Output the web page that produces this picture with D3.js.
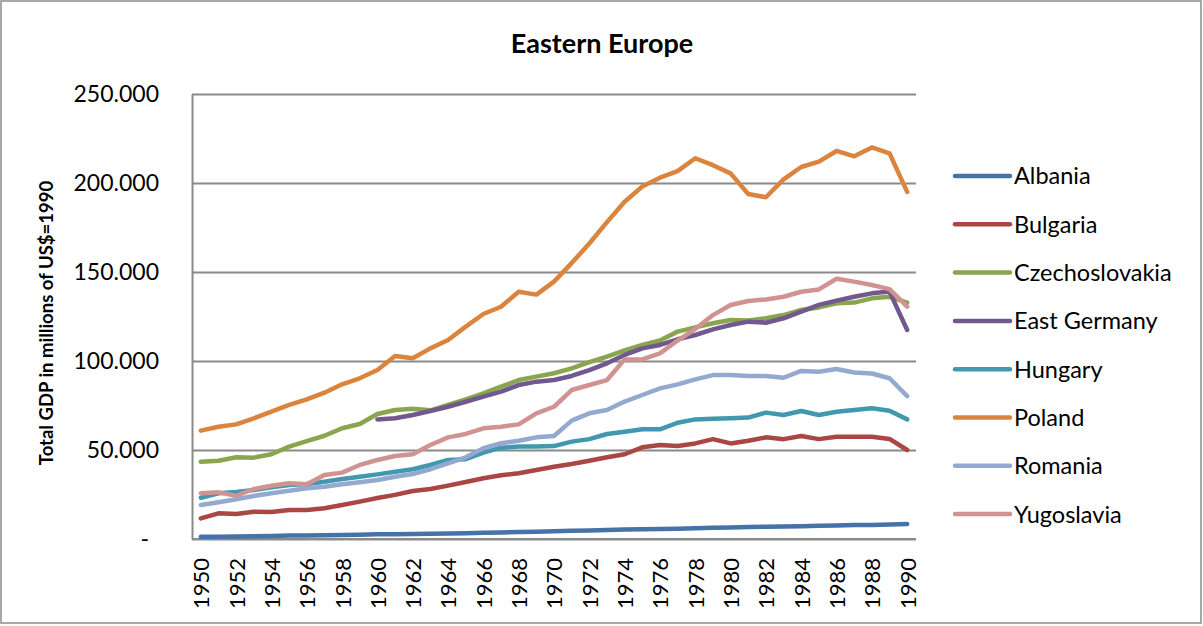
<!DOCTYPE html>
<html>
<head>
<meta charset="utf-8">
<script src="https://cdn.jsdelivr.net/npm/d3@7"></script>
<style>
  body { margin: 0; background: #fff; }
  svg text { font-family: Lato, "Open Sans", sans-serif; fill: #000; }
</style>
</head>
<body>
<svg id="chart" width="1203" height="626"></svg>
<script>
var years = d3.range(1950, 1991);
var yearLabels = d3.range(1950, 1991, 2);
var yTicks = [0, 50, 100, 150, 200, 250];

var countries = ['Albania', 'Bulgaria', 'Czechoslovakia', 'East Germany', 'Hungary', 'Poland', 'Romania', 'Yugoslavia'];
var colors = ['#4572A7', '#AA4643', '#89A54E', '#71588F', '#4198AF', '#DB843D', '#93A9CF', '#D19392'];

// GDP, thousands of millions US$ (1990)
var albania = [1.2,1.3,1.4,1.6,1.7,1.9,2.0,2.1,2.2,2.4, 2.6,2.7,2.8,3.0,3.1,3.3,3.5,3.7,3.9,4.1,
  4.3,4.6,4.8,5.0,5.3,5.5,5.6,5.8,6.1,6.3, 6.5,6.7,6.9,7.0,7.2,7.4,7.6,7.8,7.9,8.2, 8.4];
var bulgaria = [11.6,14.4,14.0,15.3,15.2,16.3,16.3,17.3,19.1,21.0, 23.0,24.8,27.0,28.1,30.0,32.0,34.1,35.8,36.9,38.8,
  40.6,42.1,44.0,45.9,47.6,51.5,52.8,52.2,53.7,56.1, 53.7,55.2,57.1,56.1,57.9,56.1,57.5,57.5,57.5,56.2, 50.0];
var czechoslovakia = [43.4,44.0,45.9,45.7,47.6,51.9,55.0,58.0,62.2,64.6, 70.2,72.5,73.2,72.3,75.3,78.5,81.8,85.6,89.3,91.2,
  93.1,95.9,99.3,102.5,106.0,109.0,111.5,116.5,118.9,121.2, 123.0,122.7,124.0,125.8,128.7,130.1,132.4,132.8,135.2,136.1, 132.8];
var eastGermany = [null,null,null,null,null,null,null,null,null,null, 67.2,67.8,69.7,71.9,74.3,77.1,80.0,82.8,86.5,88.4,
  89.3,91.6,94.9,98.7,103.4,107.1,109.0,112.2,114.6,117.8, 120.2,122.1,121.5,124.0,127.7,131.5,133.9,136.1,138.0,139.0, 117.4];
var hungary = [23.2,25.7,26.4,27.5,29.0,30.3,30.9,32.2,33.7,35.0, 36.3,37.8,39.2,41.6,44.4,44.8,48.5,51.3,51.9,51.9,
  52.2,54.7,56.1,59.0,60.3,61.6,61.6,65.3,67.2,67.6, 67.8,68.2,71.0,69.7,71.9,69.7,71.5,72.5,73.4,72.1, 67.2];
var poland = [60.9,63.1,64.4,67.8,71.5,75.3,78.5,82.2,86.9,90.3, 94.9,102.8,101.5,107.1,111.8,119.3,126.4,130.5,138.9,137.3,
  144.6,155.0,166.0,178.0,189.5,198.0,203.0,206.7,213.9,210.0, 205.4,193.8,192.0,202.0,209.0,212.0,218.0,215.0,220.0,216.7, 195.0];
var romania = [19.1,20.6,22.3,24.2,25.7,27.1,28.5,29.4,30.7,31.9, 33.1,35.0,36.5,39.2,42.5,45.9,51.0,53.8,55.2,57.1,
  57.9,66.5,70.6,72.5,77.2,80.9,84.6,86.9,89.7,92.1, 92.1,91.6,91.6,90.6,94.4,94.0,95.5,93.5,93.0,90.3, 80.3];
var yugoslavia = [25.7,26.2,24.3,28.1,29.9,31.3,30.7,36.0,37.3,41.6, 44.4,46.6,47.6,52.8,57.1,59.0,62.2,63.1,64.4,70.6,
  74.3,83.7,86.5,89.3,100.9,100.9,104.3,111.5,118.0,125.8, 131.5,133.7,134.6,136.1,138.9,140.2,146.2,144.6,142.7,140.4, 130.5];

var seriesValues = [albania, bulgaria, czechoslovakia, eastGermany, hungary, poland, romania, yugoslavia];

var svg = d3.select('#chart');
var plot = {left: 192, right: 916, top: 94, bottom: 539};

// chart border
svg.append('rect')
    .attr('x', 1).attr('y', 1)
    .attr('width', 1200).attr('height', 622)
    .attr('fill', '#fff')
    .attr('stroke', '#8c8c8c')
    .attr('stroke-width', 1.5);

var x = d3.scalePoint()
    .domain(years)
    .range([plot.left, plot.right])
    .padding(0.5);

var y = d3.scaleLinear()
    .domain([0, 250])
    .range([plot.bottom, plot.top]);

// gridlines
svg.append('g')
    .attr('transform', 'translate(' + plot.left + ',0)')
    .call(d3.axisRight(y).tickValues(yTicks).tickSize(plot.right - plot.left).tickFormat(''))
    .call(function(g){
        g.select('.domain').remove();
        g.selectAll('line').attr('stroke', '#8a8a8a').attr('stroke-width', 2);
    });

// y axis
svg.append('g')
    .attr('transform', 'translate(' + plot.left + ',0)')
    .call(d3.axisLeft(y).tickValues(yTicks).tickSize(0).tickPadding(33)
        .tickFormat(function(d){ return d === 0 ? '-' : d + '.000'; }))
    .call(function(g){
        g.select('.domain').attr('stroke', '#8a8a8a').attr('stroke-width', 2);
        g.selectAll('text').attr('font-size', 23).attr('font-family', 'Lato');
        g.selectAll('.tick').filter(function(d){ return d === 0; })
            .select('text').attr('dx', -10);
    });

// x axis
svg.append('g')
    .attr('transform', 'translate(0,' + plot.bottom + ')')
    .call(d3.axisBottom(x).tickValues(yearLabels).tickSize(0).tickFormat(d3.format('d')))
    .call(function(g){
        g.select('.domain').attr('d', 'M' + plot.left + ',0H' + plot.right)
            .attr('stroke', '#8a8a8a').attr('stroke-width', 2);
        g.selectAll('text')
            .attr('font-size', 22)
            .attr('font-family', 'Lato')
            .attr('text-anchor', 'end')
            .attr('transform', 'rotate(-90)')
            .attr('x', -19)
            .attr('y', 0)
            .attr('dy', '0.36em');
    });

// lines
var line = d3.line()
    .defined(function(d){ return d != null; })
    .x(function(d, i){ return x(years[i]); })
    .y(function(d){ return y(d); });

svg.append('g')
    .selectAll('path')
    .data(seriesValues)
    .join('path')
    .attr('d', line)
    .attr('fill', 'none')
    .attr('stroke', function(d, i){ return colors[i]; })
    .attr('stroke-width', 4.5)
    .attr('stroke-linejoin', 'round')
    .attr('stroke-linecap', 'round');

// title
svg.append('text')
    .attr('x', 602)
    .attr('y', 53)
    .attr('text-anchor', 'middle')
    .attr('font-size', 27)
    .attr('font-weight', 'bold')
    .text('Eastern Europe');

// y axis title
svg.append('text')
    .attr('transform', 'translate(53,323) rotate(-90)')
    .attr('text-anchor', 'middle')
    .attr('font-size', 18.5)
    .attr('font-weight', 'bold')
    .text('Total GDP in millions of US$=1990');

// legend
var legend = svg.append('g')
    .selectAll('g')
    .data(countries)
    .join('g')
    .attr('transform', function(d, i){ return 'translate(955,' + (176 + i * 48.3) + ')'; });

legend.append('line')
    .attr('x1', 0).attr('x2', 55)
    .attr('stroke', function(d, i){ return colors[i]; })
    .attr('stroke-width', 4.5)
    .attr('stroke-linecap', 'round');

legend.append('text')
    .attr('x', 59)
    .attr('dy', '0.36em')
    .attr('font-size', 23.5)
    .text(function(d){ return d; });
</script>
</body>
</html>
